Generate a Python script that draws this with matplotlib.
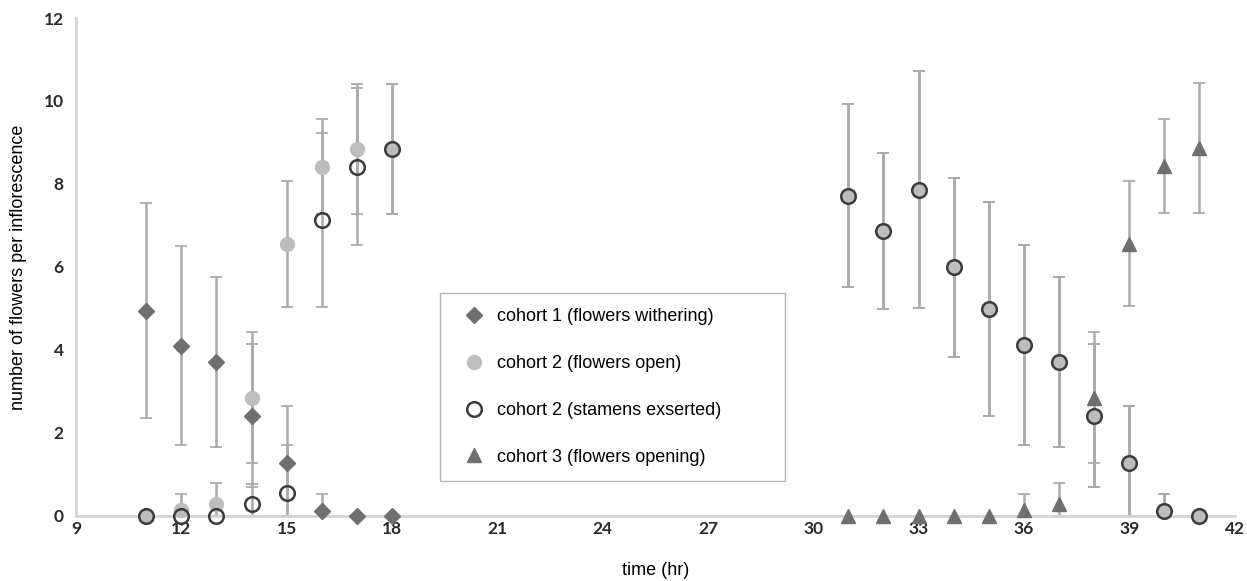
import numpy as np
import matplotlib.pyplot as plt

# cohort 1 - flowers withering
c1_t = [11, 12, 13, 14, 15, 16, 17, 18]
c1_y = [4.95, 4.1, 3.72, 2.42, 1.28, 0.13, 0.0, 0.0]
c1_err = [2.58, 2.4, 2.05, 1.73, 1.38, 0.4, 0.0, 0.0]

# cohort 2 - flowers open
c2o_t = [11, 12, 13, 14, 15, 16, 17, 18, 31, 32, 33, 34, 35, 36, 37, 38, 39, 40, 41]
c2o_y = [0.0, 0.14, 0.28, 2.85, 6.55, 8.42, 8.85, 8.85,
         7.72, 6.86, 7.86, 5.99, 4.98, 4.12, 3.72, 2.42, 1.27, 0.13, 0.0]
c2o_err = [0.0, 0.39, 0.51, 1.58, 1.52, 1.15, 1.57, 1.57,
           2.2, 1.88, 2.86, 2.16, 2.58, 2.42, 2.05, 1.72, 1.38, 0.4, 0.0]

# cohort 2 - stamens exserted
c2s_t = [11, 12, 13, 14, 15, 16, 17, 18, 31, 32, 33, 34, 35, 36, 37, 38, 39, 40, 41]
c2s_y = [0.0, 0.0, 0.0, 0.28, 0.56, 7.14, 8.42, 8.85,
         7.72, 6.86, 7.86, 5.99, 4.98, 4.12, 3.72, 2.42, 1.27, 0.13, 0.0]
c2s_err = [0.0, 0.0, 0.0, 0.5, 1.15, 2.1, 1.9, 1.57,
           2.2, 1.88, 2.86, 2.16, 2.58, 2.42, 2.05, 1.72, 1.38, 0.4, 0.0]

# cohort 3 - flowers opening
c3_t = [31, 32, 33, 34, 35, 36, 37, 38, 39, 40, 41]
c3_y = [0.0, 0.0, 0.0, 0.0, 0.0, 0.14, 0.28, 2.85, 6.56, 8.44, 8.86]
c3_err = [0.0, 0.0, 0.0, 0.0, 0.0, 0.38, 0.51, 1.58, 1.5, 1.13, 1.57]

xticks = [9, 12, 15, 18, 21, 24, 27, 30, 33, 36, 39, 42]
yticks = [0, 2, 4, 6, 8, 10, 12]

fig = plt.figure(figsize=(12.47, 5.81), dpi=100)
ax = fig.add_axes([0.061, 0.112, 0.929, 0.857])

ecol = '#ababab'


def errs(y, e):
    y = np.array(y)
    e = np.array(e)
    return [np.minimum(e, y), e]


series = [
    (c1_t, c1_y, c1_err, dict(marker='D', ms=8, mfc='#6f6f6f', mec='#6f6f6f'),
     'cohort 1 (flowers withering)'),
    (c2o_t, c2o_y, c2o_err, dict(marker='o', ms=10, mfc='#bdbdbd', mec='#bdbdbd'),
     'cohort 2 (flowers open)'),
    (c2s_t, c2s_y, c2s_err, dict(marker='o', ms=10.5, mfc='none', mec='#3c3c3c', mew=1.8),
     'cohort 2 (stamens exserted)'),
    (c3_t, c3_y, c3_err, dict(marker='^', ms=10, mfc='#6f6f6f', mec='#6f6f6f'),
     'cohort 3 (flowers opening)'),
]

handles = []
for t, y, e, style, lab in series:
    ax.errorbar(t, y, yerr=errs(y, e), fmt='none', ecolor=ecol,
                elinewidth=1.8, capsize=4, capthick=1.3, clip_on=False, zorder=2)
    h, = ax.plot(t, y, ls='none', clip_on=False, zorder=3, label=lab, **style)
    handles.append(h)

ax.set_xlim(9, 42)
ax.set_ylim(0, 12)
ax.set_xticks(xticks)
ax.set_yticks(yticks)
ax.tick_params(length=0, labelsize=12.5, colors='#2a2a2a')
ax.tick_params(axis='x', pad=4)
ax.tick_params(axis='y', pad=9)
for lab in ax.get_xticklabels() + ax.get_yticklabels():
    lab.set_fontfamily('Lato')
    lab.set_fontweight('bold')

for s in ['top', 'right']:
    ax.spines[s].set_visible(False)
for s in ['left', 'bottom']:
    ax.spines[s].set_color('#d4d4d4')
    ax.spines[s].set_linewidth(2)

ax.set_xlabel('time (hr)', fontsize=13, family='Liberation Sans', labelpad=18)
ax.set_ylabel('number of flowers per inflorescence', fontsize=13,
              family='Liberation Sans', labelpad=12)

leg = ax.legend(handles=handles, loc='upper left', mode='expand',
                bbox_to_anchor=(0.3143, 0.0, 0.298, 0.4478),
                prop={'family': 'Liberation Sans', 'size': 13}, frameon=True,
                fancybox=False, edgecolor='#a0a0a0', labelspacing=1.65,
                borderpad=0.85, handlelength=2.0, handletextpad=0.28, borderaxespad=0)
leg.get_frame().set_linewidth(1.0)

fig.savefig('out.png', dpi=100)
